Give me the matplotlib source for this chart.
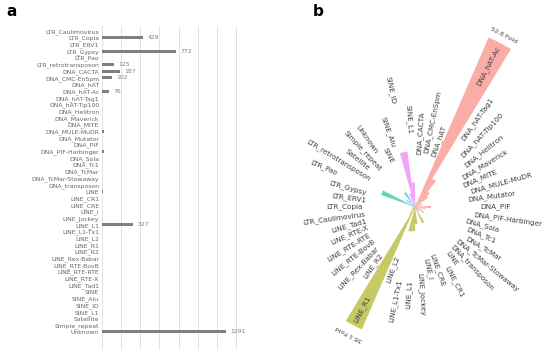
import numpy as np
import matplotlib
matplotlib.use("Agg")
import matplotlib.pyplot as plt

# panel a: copies per repeat family
cats_a = ["LTR_Caulimovirus", "LTR_Copia", "LTR_ERV1", "LTR_Gypsy", "LTR_Pao",
          "LTR_retrotransposon", "DNA_CACTA", "DNA_CMC-EnSpm", "DNA_hAT", "DNA_hAT-Ac",
          "DNA_hAT-Tag1", "DNA_hAT-Tip100", "DNA_Helitron", "DNA_Maverick", "DNA_MITE",
          "DNA_MULE-MuDR", "DNA_Mutator", "DNA_PIF", "DNA_PIF-Harbinger", "DNA_Sola",
          "DNA_Tc1", "DNA_TcMar", "DNA_TcMar-Stowaway", "DNA_transposon", "LINE",
          "LINE_CR1", "LINE_CRE", "LINE_I", "LINE_Jockey", "LINE_L1", "LINE_L1-Tx1",
          "LINE_L2", "LINE_R1", "LINE_R2", "LINE_Rex-Babar", "LINE_RTE-BovB",
          "LINE_RTE-RTE", "LINE_RTE-X", "LINE_Tad1", "SINE", "SINE_Alu", "SINE_ID",
          "SINE_L1", "Satellite", "Simple_repeat", "Unknown"]
counts_a = [0, 429, 0, 772, 0,
            125, 187, 102, 0, 76,
            0, 4, 0, 0, 0,
            18, 0, 0, 16, 0,
            0, 0, 0, 0, 6,
            0, 0, 0, 0, 327, 0,
            0, 0, 0, 0, 0,
            0, 0, 0, 0, 0, 0,
            4, 2, 2, 1291]

# panel b: fold enrichment, clockwise from the top
cats_b = ["DNA_CACTA", "DNA_CMC-EnSpm", "DNA_hAT", "DNA_hAT-Ac", "DNA_hAT-Tag1",
          "DNA_hAT-Tip100", "DNA_Helitron", "DNA_Maverick", "DNA_MITE", "DNA_MULE-MuDR",
          "DNA_Mutator", "DNA_PIF", "DNA_PIF-Harbinger", "DNA_Sola", "DNA_Tc1",
          "DNA_TcMar", "DNA_TcMar-Stowaway", "DNA_transposon", "LINE", "LINE_CR1",
          "LINE_CRE", "LINE_I", "LINE_Jockey", "LINE_L1", "LINE_L1-Tx1", "LINE_L2",
          "LINE_R1", "LINE_R2", "LINE_Rex-Babar", "LINE_RTE-BovB", "LINE_RTE-RTE",
          "LINE_RTE-X", "LINE_Tad1", "LTR_Caulimovirus", "LTR_Copia", "LTR_ERV1",
          "LTR_Gypsy", "LTR_Pao", "LTR_retrotransposon", "Satellite", "Simple_repeat",
          "Unknown", "SINE", "SINE_Alu", "SINE_ID", "SINE_L1"]
fold_b = [0.9, 1.7, 1.2, 52.8, 9.5,
          5.7, 4.6, 2.0, 1.0, 2.3,
          1.1, 4.6, 2.9, 1.0, 2.0,
          3.0, 1.2, 1.2, 1.7, 5.1,
          0.3, 0.9, 4.9, 6.9, 7.1, 0.9,
          38.1, 2.5, 1.5, 1.0, 1.0,
          0.5, 0.5, 0.3, 1.0, 0.2,
          0.6, 10.3, 1.0, 3.0, 0.6,
          5.0, 0.2, 4.0, 16.0, 7.0]
group_b = (["DNA"] * 18 + ["LINE"] * 15 + ["LTR"] * 6 + ["Other"] * 3 + ["SINE"] * 4)
group_colors = {"DNA": "#F8766D", "LINE": "#A3A500", "LTR": "#00BF7D",
                "Other": "#00B0F6", "SINE": "#E76BF3"}
fold_labels = {"DNA_hAT-Ac": "52.8 Fold", "LINE_R1": "38.1 Fold"}

W, H = 550, 353
fig = plt.figure(figsize=(W / 100, H / 100), dpi=100)

# ---- a ----
ax_a = fig.add_axes([102 / W, 1 - 350 / H, 136 / W, (350 - 26) / H])
y = np.arange(len(cats_a))
ax_a.barh(y, counts_a, height=0.45, color="#808080", zorder=2)
ax_a.set_yticks(y)
ax_a.set_yticklabels(cats_a, fontsize=4.4, color="#666666")
ax_a.set_xticks(range(0, 1401, 200))
ax_a.tick_params(axis="x", labelbottom=False, length=0)
ax_a.tick_params(axis="y", length=0, pad=2)
ax_a.grid(axis="x", color="#E3E3E3", lw=0.7, zorder=0)
ax_a.set_xlim(0, 1420)
ax_a.set_ylim(47.7, -0.75)
for s in ax_a.spines.values():
    s.set_visible(False)
for yi, v in zip(y, counts_a):
    if v >= 50:
        ax_a.text(v + 45, yi, str(v), fontsize=4.4, color="#808080", va="center")

fig.text(6 / W, 1 - 12 / H, "a", fontsize=11, fontweight="bold", va="center")
fig.text(313 / W, 1 - 12 / H, "b", fontsize=11, fontweight="bold", va="center")

# ---- b ----
cx, cy, R = 415, 207, 200
px_per_fold = 3.5
ax_b = fig.add_axes([(cx - R) / W, (H - cy - R) / H, 2 * R / W, 2 * R / H],
                    projection="polar")
ax_b.set_theta_zero_location("N")
ax_b.set_theta_direction(-1)
ax_b.set_ylim(0, R / px_per_fold)
n = len(cats_b)
width = 2 * np.pi / n
theta = (np.arange(n) + 0.5) * width
cols = [group_colors[g] for g in group_b]
ax_b.bar(theta, fold_b, width=width, color=cols, alpha=0.6, linewidth=0)
ax_b.set_axis_off()

txt_col = "#3F3F3F"
for th, v, name in zip(theta, fold_b, cats_b):
    phi = 90 - np.degrees(th)  # math angle
    right = np.cos(np.radians(phi)) > 0
    rot = phi if right else phi + 180
    if v > 30:
        # label inside the big wedge, ending near its tip
        ax_b.text(th, v - 1, name, fontsize=5.2, color=txt_col,
                  rotation=rot, rotation_mode="anchor",
                  ha="right" if right else "left", va="center")
        ax_b.text(th, v + 2.5, fold_labels[name], fontsize=4.6, color=txt_col,
                  rotation=phi - 90, rotation_mode="anchor", ha="center", va="center")
    else:
        ax_b.text(th, v + 14, name, fontsize=5.2, color=txt_col,
                  rotation=rot, rotation_mode="anchor",
                  ha="left" if right else "right", va="center")

fig.savefig("out.png", dpi=100)
